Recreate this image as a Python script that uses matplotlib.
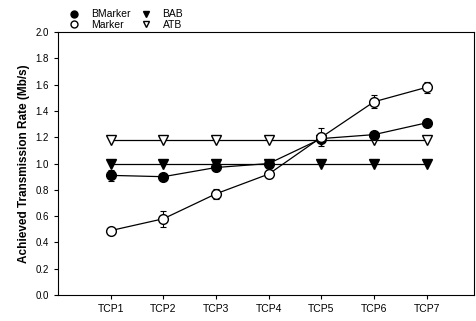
import numpy as np
import matplotlib.pyplot as plt
from matplotlib.lines import Line2D

plt.rcParams['font.family'] = ['Liberation Sans', 'DejaVu Sans']

labels = ["TCP1", "TCP2", "TCP3", "TCP4", "TCP5", "TCP6", "TCP7"]
bmarker = [0.91, 0.90, 0.97, 1.00, 1.19, 1.22, 1.31]
bmarker_err = [0.04, 0.01, 0.03, 0.01, 0.02, 0.02, 0.02]
marker = [0.49, 0.58, 0.77, 0.92, 1.20, 1.47, 1.58]
marker_err = [0.02, 0.06, 0.04, 0.03, 0.07, 0.05, 0.04]
bab = [1.00, 1.00, 1.00, 1.00, 1.00, 1.00, 1.00]
atb = [1.18, 1.18, 1.18, 1.18, 1.18, 1.18, 1.18]


def main():
    x = np.arange(1, len(labels) + 1)
    fig = plt.figure(figsize=(4.76, 3.21), dpi=100)
    ax = fig.add_axes([0.122, 0.081, 0.874, 0.819])

    kw = dict(color='black', lw=0.9, ms=7, capsize=2.5, elinewidth=0.8, capthick=0.8)
    ax.errorbar(x, bmarker, yerr=bmarker_err, marker='o', mfc='black', mec='black', **kw)
    ax.plot(x, bab, marker='v', color='black', lw=0.9, ms=6.5, mfc='black')
    ax.plot(x, atb, marker='v', color='black', lw=0.9, ms=6.5, mfc='white')
    ax.errorbar(x, marker, yerr=marker_err, marker='o', mfc='white', mec='black', **kw)

    ax.set_xlim(0, 7.9)
    ax.set_ylim(0, 2.0)
    ax.set_xticks(x)
    ax.set_xticklabels(labels, fontsize=7.5)
    ax.set_yticks(np.arange(0, 2.01, 0.2))
    ax.set_yticklabels(["%.1f" % v for v in np.arange(0, 2.01, 0.2)], fontsize=7)
    ax.tick_params(direction='out', length=3, width=0.8)
    ax.set_ylabel("Achieved Transmission Rate (Mb/s)", fontsize=8.5, fontweight='bold')
    for s in ax.spines.values():
        s.set_linewidth(0.8)

    handles = [
        Line2D([], [], ls='none', marker='o', color='black', mfc='black', ms=5),
        Line2D([], [], ls='none', marker='o', color='black', mfc='white', ms=5),
        Line2D([], [], ls='none', marker='v', color='black', mfc='black', ms=5),
        Line2D([], [], ls='none', marker='v', color='black', mfc='white', ms=5),
    ]
    fig.legend(handles, ["BMarker", "Marker", "BAB", "ATB"], ncol=2,
               loc='upper left', bbox_to_anchor=(0.125, 1.0), frameon=False,
               fontsize=7.5, handlelength=1.0, columnspacing=1.0,
               labelspacing=0.05, handletextpad=1.1)
    fig.savefig("out.png", dpi=100)


if __name__ == "__main__":
    main()
